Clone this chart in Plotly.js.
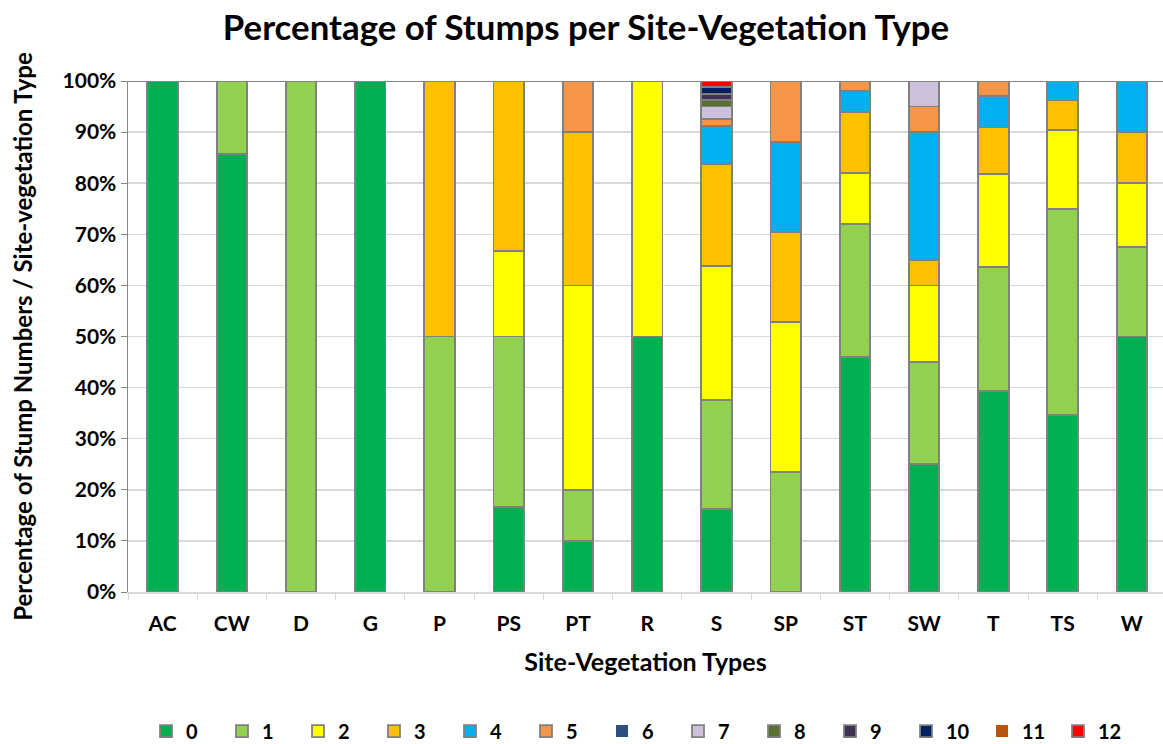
<!DOCTYPE html>
<html><head><meta charset="utf-8">
<script src="https://cdn.plot.ly/plotly-3.0.1.min.js"></script>
<style>html,body{margin:0;padding:0;background:#fff}</style>
</head><body>
<div id="chart" style="width:1163px;height:744px"></div>
<script>
const categories = ["AC","CW","D","G","P","PS","PT","R","S","SP","ST","SW","T","TS","W"];
const seriesNames = ["0","1","2","3","4","5","6","7","8","9","10","11","12"];
const colors = ["#00B050","#92D050","#FFFF00","#FFC000","#00B0F0","#F79646","#2B4F7E","#CCC0DA","#5A7030","#403152","#002060","#B85410","#FF0000"];
const s0  = [100, 85.7, null, 100, null, 16.7, 10, 50, 16.25, null, 46, 25, 39.4, 34.6, 50];
const s1  = [null, 14.3, 100, null, 50, 33.3, 10, null, 21.25, 23.5, 26, 20, 24.2, 40.4, 17.5];
const s2  = [null, null, null, null, null, 16.7, 40, 50, 26.25, 29.4, 10, 15, 18.2, 15.4, 12.5];
const s3  = [null, null, null, null, 50, 33.3, 30, null, 20, 17.6, 12, 5, 9.1, 5.8, 10];
const s4  = [null, null, null, null, null, null, null, null, 7.5, 17.6, 4, 25, 6.1, 3.8, 10];
const s5  = [null, null, null, null, null, null, 10, null, 1.25, 11.8, 2, 5, 3.0, null, null];
const s6  = [null, null, null, null, null, null, null, null, null, null, null, null, null, null, null];
const s7  = [null, null, null, null, null, null, null, null, 2.5, null, null, 5, null, null, null];
const s8  = [null, null, null, null, null, null, null, null, 1.25, null, null, null, null, null, null];
const s9  = [null, null, null, null, null, null, null, null, 1.25, null, null, null, null, null, null];
const s10 = [null, null, null, null, null, null, null, null, 1.25, null, null, null, null, null, null];
const s11 = [null, null, null, null, null, null, null, null, null, null, null, null, null, null, null];
const s12 = [null, null, null, null, null, null, null, null, 1.25, null, null, null, null, null, null];
const allSeries = [s0,s1,s2,s3,s4,s5,s6,s7,s8,s9,s10,s11,s12];
const yTickVals = [0,10,20,30,40,50,60,70,80,90,100];
const yTickText = ["0%","10%","20%","30%","40%","50%","60%","70%","80%","90%","100%"];

const FONT = "Lato, 'Open Sans', sans-serif";
const traces = allSeries.map((vals, i) => {
  const empty = vals.every(v => v === null);
  return {
    type: "bar", name: seriesNames[i], x: categories, y: vals,
    marker: {color: colors[i], line: {color: "#808080", width: empty ? 0 : 1.8}},
    width: 0.44
  };
});

const layout = {
  width: 1163, height: 744,
  margin: {l: 128, r: 0, t: 81, b: 152, autoexpand: false},
  paper_bgcolor: "#fff", plot_bgcolor: "#fff",
  barmode: "stack", bargap: 0.56,
  font: {family: FONT, color: "#000", size: 20, weight: 700},
  title: {text: "Percentage of Stumps per Site-Vegetation Type", xref: "paper", x: 0.4425, xanchor: "center", y: 0.963, yanchor: "middle",
          font: {family: FONT, size: 34.8, weight: 700, color: "#000"}},
  xaxis: {
    type: "category", range: [-0.5, 14.45],
    showline: true, linecolor: "#D9D9D9", linewidth: 1.5,
    ticks: "outside", tickson: "boundaries", ticklen: 6, tickcolor: "#D9D9D9",
    ticklabelstandoff: 12,
    showgrid: false,
    tickfont: {family: FONT, size: 21, weight: 700},
    title: {text: "Site-Vegetation Types", standoff: 20, font: {family: FONT, size: 25, weight: 700}}
  },
  yaxis: {
    range: [0, 100], tickvals: yTickVals, ticktext: yTickText,
    showline: true, linecolor: "#868686", linewidth: 1.5,
    ticks: "outside", ticklen: 6, tickcolor: "#868686",
    showgrid: true, gridcolor: "#D9D9D9", gridwidth: 1.5, zeroline: false,
    tickfont: {family: FONT, size: 21, weight: 700},
    title: {text: "Percentage of Stump Numbers / Site-vegetation Type", standoff: 23, font: {family: FONT, size: 24, weight: 700}}
  },
  shapes: [{type: "line", xref: "paper", yref: "y", x0: 0, x1: 1, y0: 100, y1: 100, line: {color: "#868686", width: 2}}],
  legend: {orientation: "h", x: 0.0174, xanchor: "left", y: -0.234, yanchor: "top",
           entrywidth: 31, entrywidthmode: "pixels", itemwidth: 30, traceorder: "normal",
           font: {family: FONT, size: 20, weight: 700}},
  showlegend: true
};
Plotly.newPlot("chart", traces, layout, {displayModeBar: false, staticPlot: true});
</script>
</body></html>
